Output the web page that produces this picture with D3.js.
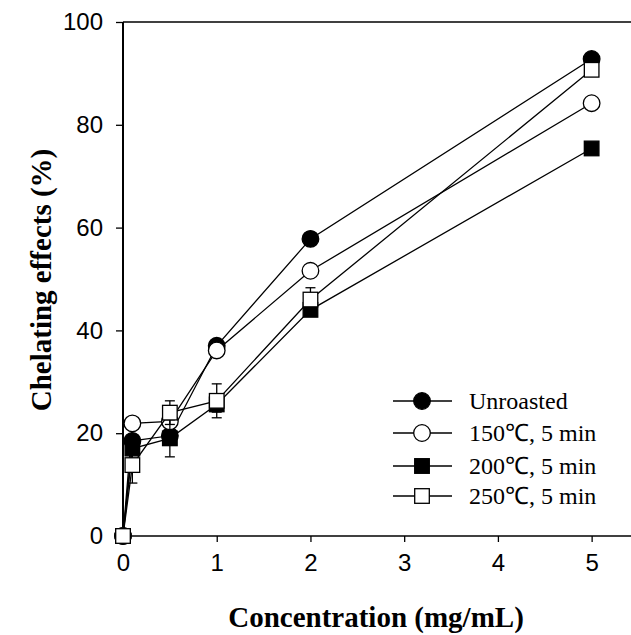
<!DOCTYPE html>
<html>
<head>
<meta charset="utf-8">
<script src="https://cdn.jsdelivr.net/npm/d3@7"></script>
<style>
  body { margin: 0; background: #fff; }
  svg { display: block; }
</style>
</head>
<body>
<div id="chart"></div>
<script>
// concentrations (mg/mL)
var conc = [0, 0.1, 0.5, 1, 2, 5];
var seriesNames = ["Unroasted", "150\u2103, 5 min", "200\u2103, 5 min", "250\u2103, 5 min"];
// chelating effects (%) per series
var unroasted = [0, 18.5, 19.5, 37.0, 57.8, 92.8];
var roast150  = [0, 21.9, 22.3, 36.1, 51.6, 84.2];
var roast200  = [0, 17.0, 19.0, 25.6, 44.0, 75.4];
var roast250  = [0, 13.8, 24.0, 26.3, 46.0, 90.7];
// standard deviation bars
var err200 = [0, 1.0, 3.6, 1.5, 1.0, 0];
var err250 = [0, 3.5, 2.3, 3.3, 2.3, 0];
var xTicks = [0, 1, 2, 3, 4, 5];
var yTicks = [0, 20, 40, 60, 80, 100];

var width = 631, height = 635;
var svg = d3.select("#chart").append("svg")
    .attr("width", width)
    .attr("height", height);

var x = d3.scaleLinear().domain([0, 5.42]).range([123, 631]);
var y = d3.scaleLinear().domain([0, 100]).range([536, 22]);

var series = [
  { name: seriesNames[0], vals: unroasted, err: null, shape: "circle", fill: "#000" },
  { name: seriesNames[1], vals: roast150, err: null, shape: "circle", fill: "#fff" },
  { name: seriesNames[2], vals: roast200, err: err200, shape: "square", fill: "#000" },
  { name: seriesNames[3], vals: roast250, err: err250, shape: "square", fill: "#fff" }
];

// axes
var yAxis = d3.axisLeft(y).tickValues(yTicks).tickSize(7).tickPadding(13).tickFormat(d3.format("d"));
var gy = svg.append("g").attr("transform", "translate(123,0)").call(yAxis);
var xAxis = d3.axisBottom(x).tickValues(xTicks).tickSize(6).tickPadding(12).tickFormat(d3.format("d"));
var gx = svg.append("g").attr("transform", "translate(0,536)").call(xAxis);

[gx, gy].forEach(function(g) {
  g.select(".domain").remove();
  g.selectAll("line").attr("stroke", "#000").attr("stroke-width", 1.3);
  g.selectAll("text")
    .attr("font-family", "Liberation Sans, Arial, sans-serif")
    .attr("font-size", 24)
    .attr("fill", "#000");
});

// frame lines
svg.append("line").attr("x1", 123).attr("x2", 631).attr("y1", y(0)).attr("y2", y(0))
   .attr("stroke", "#000").attr("stroke-width", 1.3);
svg.append("line").attr("x1", 123).attr("x2", 631).attr("y1", y(100)).attr("y2", y(100))
   .attr("stroke", "#000").attr("stroke-width", 1.3);
svg.append("line").attr("x1", 123).attr("x2", 123).attr("y1", y(0)).attr("y2", y(100))
   .attr("stroke", "#000").attr("stroke-width", 2);

// axis titles
svg.append("text")
  .attr("x", 376).attr("y", 627)
  .attr("text-anchor", "middle")
  .attr("font-family", "Liberation Serif, Times New Roman, serif")
  .attr("font-weight", "bold")
  .attr("font-size", 29)
  .text("Concentration (mg/mL)");

svg.append("text")
  .attr("transform", "translate(51,280) rotate(-90)")
  .attr("text-anchor", "middle")
  .attr("font-family", "Liberation Serif, Times New Roman, serif")
  .attr("font-weight", "bold")
  .attr("font-size", 29)
  .text("Chelating effects (%)");

var line = d3.line()
  .x(function(d, i) { return x(conc[i]); })
  .y(function(d) { return y(d); });

function drawMarker(g, s, cx, cy) {
  if (s.shape == "circle") {
    g.append("circle").attr("cx", cx).attr("cy", cy).attr("r", 8.3)
      .attr("fill", s.fill).attr("stroke", "#000").attr("stroke-width", 1.3);
  } else {
    g.append("rect").attr("x", cx - 7.3).attr("y", cy - 7.3)
      .attr("width", 14.6).attr("height", 14.6)
      .attr("fill", s.fill).attr("stroke", "#000").attr("stroke-width", 1.3);
  }
}

var plot = svg.append("g");
series.forEach(function(s) {
  var g = plot.append("g");
  g.append("path").datum(s.vals).attr("d", line)
    .attr("fill", "none").attr("stroke", "#000").attr("stroke-width", 1.3);
  if (s.err) {
    s.vals.forEach(function(v, i) {
      if (!s.err[i]) return;
      var cx = x(conc[i]);
      [v - s.err[i], v + s.err[i]].forEach(function(e) {
        g.append("line").attr("x1", cx).attr("x2", cx).attr("y1", y(v)).attr("y2", y(e))
          .attr("stroke", "#000").attr("stroke-width", 1.3);
        g.append("line").attr("x1", cx - 5).attr("x2", cx + 5).attr("y1", y(e)).attr("y2", y(e))
          .attr("stroke", "#000").attr("stroke-width", 1.3);
      });
    });
  }
  s.vals.forEach(function(v, i) {
    drawMarker(g, s, x(conc[i]), y(v));
  });
});

// legend
var legendY = [401, 433, 466, 496];
var legend = svg.append("g");
series.forEach(function(s, i) {
  var ly = legendY[i];
  legend.append("line").attr("x1", 393).attr("x2", 452).attr("y1", ly).attr("y2", ly)
    .attr("stroke", "#000").attr("stroke-width", 1.3);
  drawMarker(legend, s, 422, ly);
  legend.append("text")
    .attr("x", 469).attr("y", ly + 8)
    .attr("font-family", "Liberation Serif, Times New Roman, serif")
    .attr("font-size", 24)
    .text(s.name);
});
</script>
</body>
</html>
